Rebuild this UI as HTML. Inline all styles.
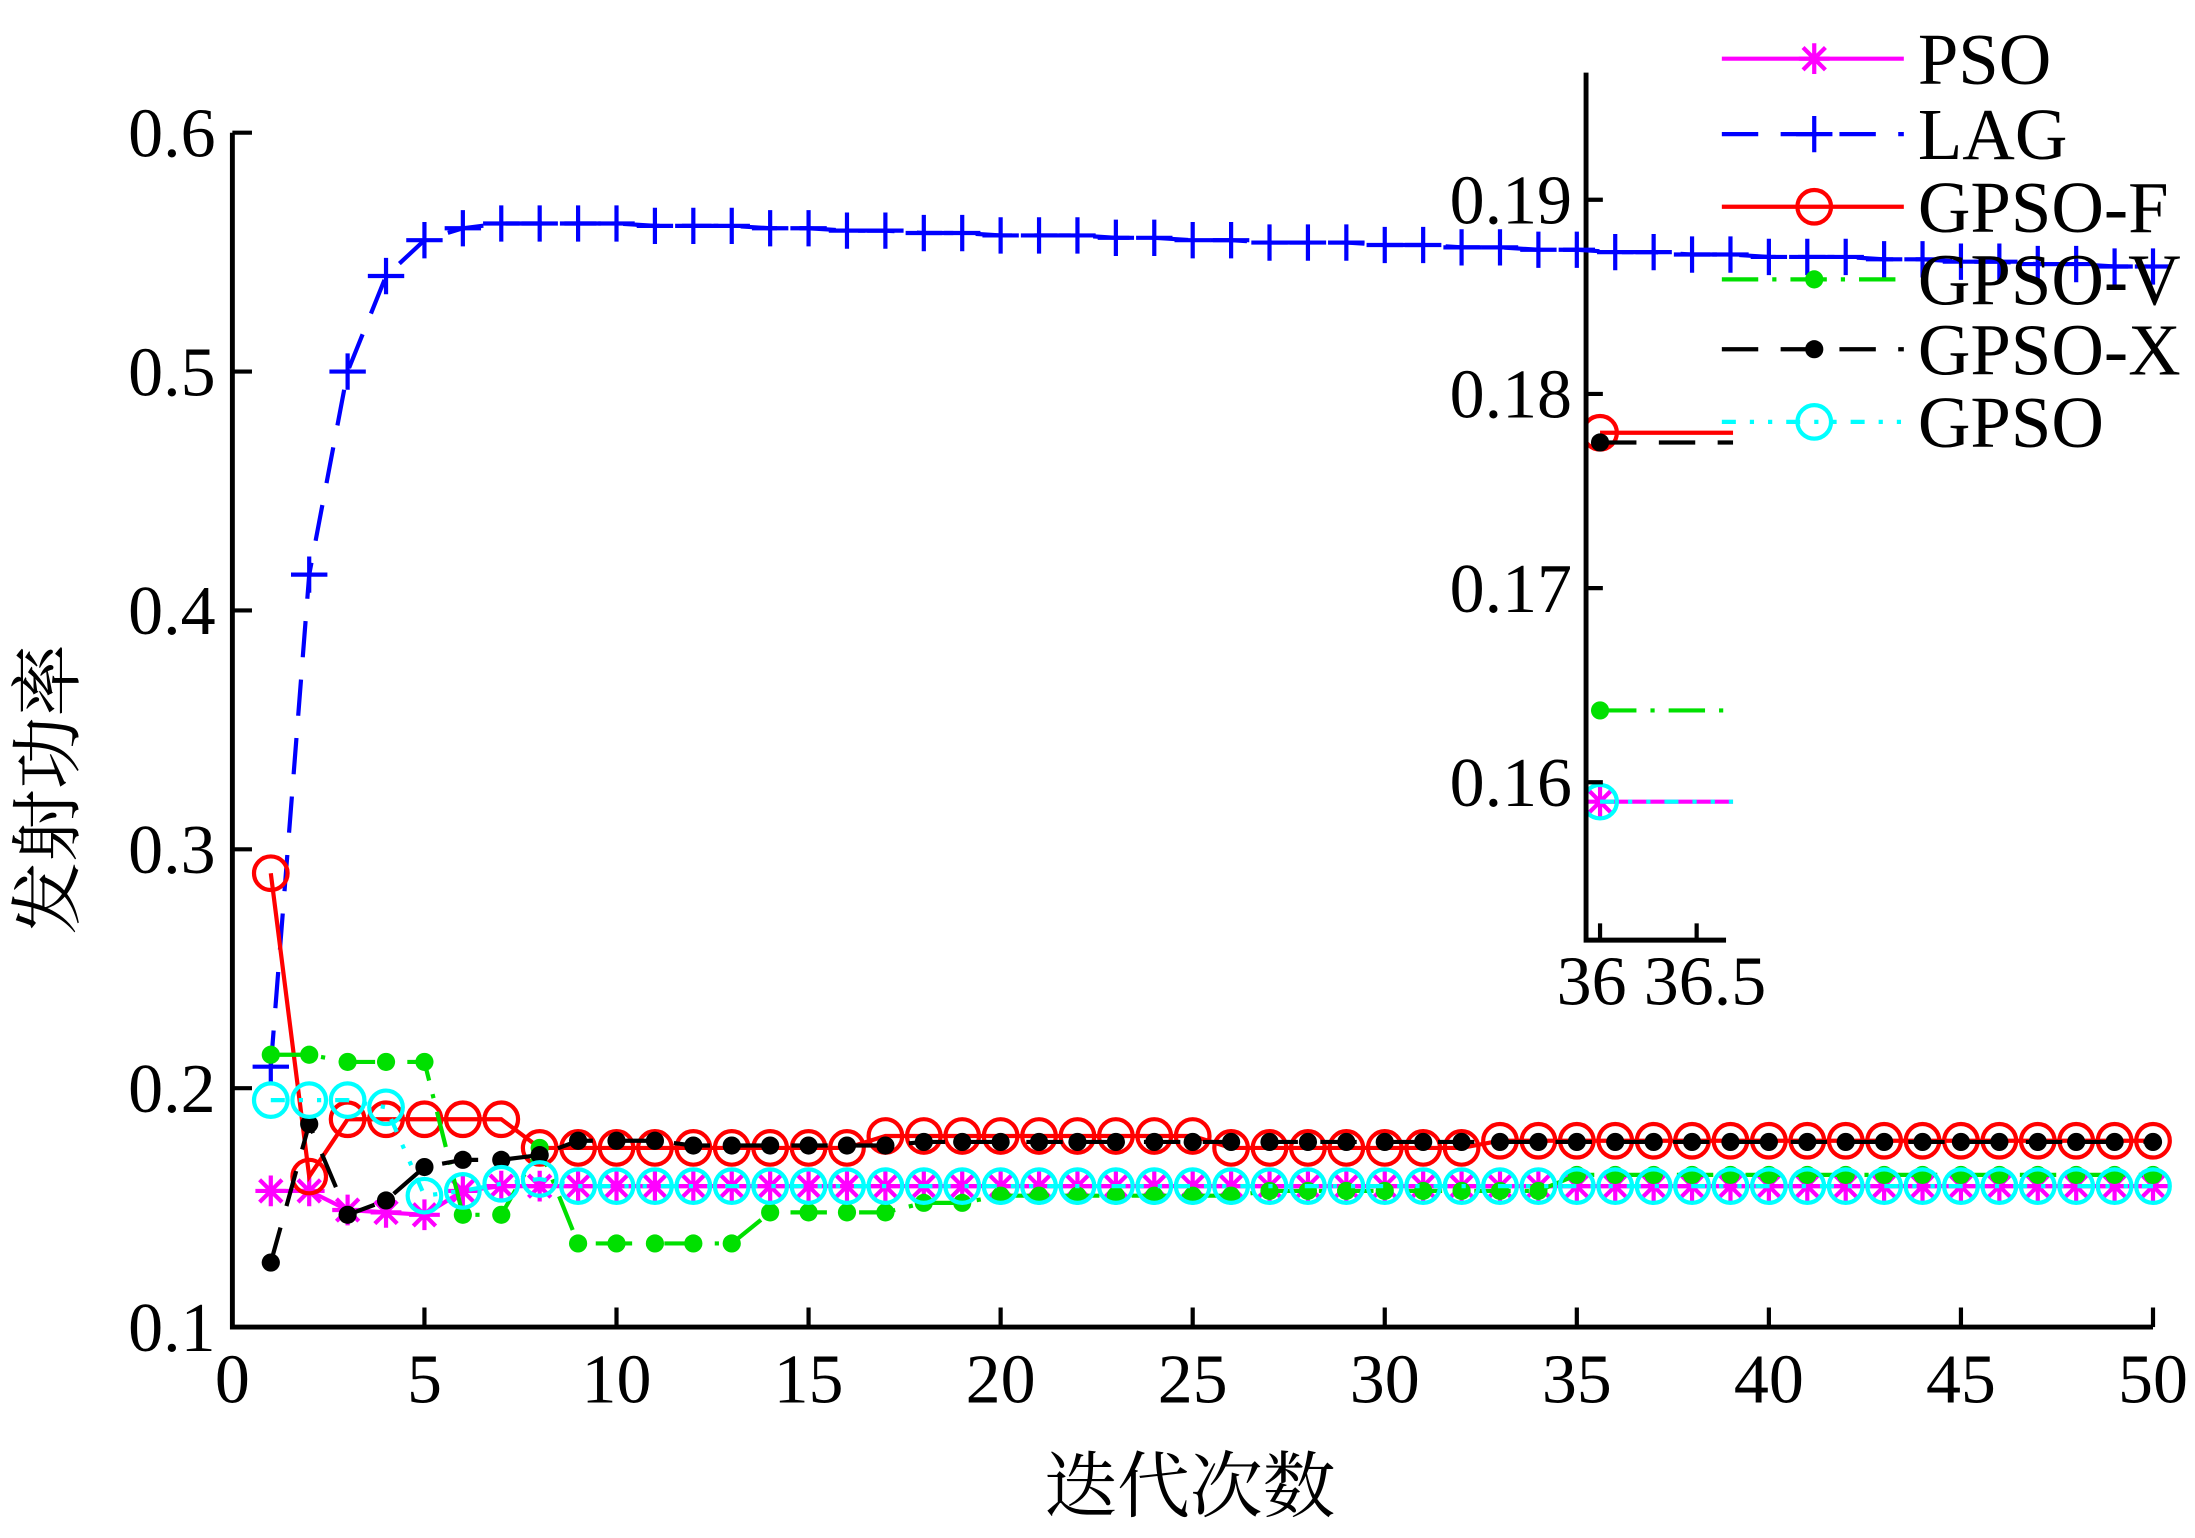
<!DOCTYPE html>
<html><head><meta charset="utf-8"><style>
html,body{margin:0;padding:0;background:#fff}
svg{display:block}
text{font-family:"Liberation Serif","Noto Serif CJK SC",serif;fill:#000}
</style></head><body>
<svg id="chart" width="2195" height="1538" viewBox="0 0 1568 1101" preserveAspectRatio="none" xmlns="http://www.w3.org/2000/svg">
<g id="inset"></g>
<g id="main"></g>
<g id="legend"></g>
<text x="52" y="565" font-size="52" text-anchor="middle" transform="rotate(-90 52 565)">发射功率</text>
<text x="850" y="1082" font-size="52" text-anchor="middle">迭代次数</text>
</svg>
<script>
const iterations = Array.from({length:50},(_,i)=>i+1);
const psoVals = [0.157,0.157,0.149,0.148,0.147,0.157,0.159,0.159,0.159,0.159,0.159,0.159,0.159,0.159,0.159,0.159,0.159,0.159,0.159,0.159,0.159,0.159,0.159,0.159,0.159,0.159,0.159,0.159,0.159,0.159,0.159,0.159,0.159,0.159,0.159,0.159,0.159,0.159,0.159,0.159,0.159,0.159,0.159,0.159,0.159,0.159,0.159,0.159,0.159,0.159];
const lagVals = [0.209,0.415,0.500,0.540,0.555,0.560,0.562,0.562,0.562,0.562,0.561,0.561,0.561,0.560,0.560,0.559,0.559,0.558,0.558,0.557,0.557,0.557,0.556,0.556,0.555,0.555,0.554,0.554,0.554,0.553,0.553,0.552,0.552,0.551,0.551,0.550,0.550,0.549,0.549,0.548,0.548,0.548,0.547,0.547,0.546,0.546,0.545,0.545,0.544,0.544];
const gpsoFVals = [0.290,0.163,0.187,0.187,0.187,0.187,0.187,0.175,0.175,0.175,0.175,0.175,0.175,0.175,0.175,0.175,0.180,0.180,0.180,0.180,0.180,0.180,0.180,0.180,0.180,0.175,0.175,0.175,0.175,0.175,0.175,0.175,0.178,0.178,0.178,0.178,0.178,0.178,0.178,0.178,0.178,0.178,0.178,0.178,0.178,0.178,0.178,0.178,0.178,0.178];
const gpsoVVals = [0.214,0.214,0.211,0.211,0.211,0.147,0.147,0.175,0.135,0.135,0.135,0.135,0.135,0.148,0.148,0.148,0.148,0.152,0.152,0.155,0.155,0.155,0.155,0.155,0.155,0.155,0.157,0.157,0.157,0.157,0.157,0.157,0.157,0.157,0.1637,0.1637,0.1637,0.1637,0.1637,0.1637,0.1637,0.1637,0.1637,0.1637,0.1637,0.1637,0.1637,0.1637,0.1637,0.1637];
const gpsoXVals = [0.127,0.185,0.147,0.153,0.167,0.170,0.170,0.172,0.178,0.178,0.178,0.176,0.176,0.176,0.176,0.176,0.176,0.1775,0.1775,0.1775,0.1775,0.1775,0.1775,0.1775,0.1775,0.1775,0.1775,0.1775,0.1775,0.1775,0.1775,0.1775,0.1775,0.1775,0.1775,0.1775,0.1775,0.1775,0.1775,0.1775,0.1775,0.1775,0.1775,0.1775,0.1775,0.1775,0.1775,0.1775,0.1775,0.1775];
const gpsoVals = [0.195,0.195,0.195,0.192,0.155,0.157,0.160,0.162,0.159,0.159,0.159,0.159,0.159,0.159,0.159,0.159,0.159,0.159,0.159,0.159,0.159,0.159,0.159,0.159,0.159,0.159,0.159,0.159,0.159,0.159,0.159,0.159,0.159,0.159,0.159,0.159,0.159,0.159,0.159,0.159,0.159,0.159,0.159,0.159,0.159,0.159,0.159,0.159,0.159,0.159];
const xTicks = [0,5,10,15,20,25,30,35,40,45,50];
const yTicks = [0.1,0.2,0.3,0.4,0.5,0.6];
const yTickLabels = ["0.1","0.2","0.3","0.4","0.5","0.6"];
const insetX = [36,37];
const insetXTicks = [36,36.5];
const insetXTickLabels = ["36","36.5"];
const insetYTicks = [0.16,0.17,0.18,0.19];
const insetYTickLabels = ["0.16","0.17","0.18","0.19"];
const seriesNames = ["PSO","LAG","GPSO-F","GPSO-V","GPSO-X","GPSO"];

const NS="http://www.w3.org/2000/svg";
function mk(tag,attrs,parent){const e=document.createElementNS(NS,tag);for(const k in attrs)e.setAttribute(k,attrs[k]);parent.appendChild(e);return e;}

const styles=[
 {vals:psoVals,color:"#ff00ff",dash:"",marker:"star"},
 {vals:lagVals,color:"#0000ff",dash:"26,16",marker:"plus"},
 {vals:gpsoFVals,color:"#ff0000",dash:"",marker:"circle"},
 {vals:gpsoVVals,color:"#00e000",dash:"26,10,3,10",marker:"dot"},
 {vals:gpsoXVals,color:"#000000",dash:"26,16",marker:"dot"},
 {vals:gpsoVals,color:"#00ffff",dash:"10,10,3,10,3,10",marker:"circle"}
];
function marker(g,type,x,y,color,key){
  let m;
  if(type==="circle"){m=mk("circle",{cx:x,cy:y,r:12,fill:"none",stroke:color,"stroke-width":3},g);}
  else if(type==="dot"){m=mk("circle",{cx:x,cy:y,r:6.5,fill:color},g);}
  else if(type==="plus"){m=mk("path",{d:`M${x-13},${y}H${x+13}M${x},${y-13}V${y+13}`,stroke:color,"stroke-width":3,fill:"none"},g);}
  else {m=mk("path",{d:`M${x-11},${y}H${x+11}M${x},${y-11}V${y+11}M${x-8},${y-8}L${x+8},${y+8}M${x-8},${y+8}L${x+8},${y-8}`,stroke:color,"stroke-width":3,fill:"none"},g);}
  
  
}

// main axes
const main=document.getElementById('main');
const X0=166,X1=1538,Y0=950,Y1=95;
const sx=v=>X0+(v-0)/(50-0)*(X1-X0);
const sy=v=>Y0-(v-0.1)/(0.6-0.1)*(Y0-Y1);
styles.forEach((s,si)=>{
  const key=seriesNames[si].toLowerCase();
  const g=mk("g",{},main);
  
  
  const pts=iterations.map((it,i)=>sx(it)+","+sy(s.vals[i])).join(" ");
  const pl=mk("polyline",{points:pts,fill:"none",stroke:s.color,"stroke-width":3,"stroke-dasharray":s.dash},g);
  
  
  iterations.forEach((it,i)=>marker(g,s.marker,sx(it),sy(s.vals[i]),s.color,key));
});
const ax=mk("path",{d:`M${X0},${Y1}V${Y0}H${X1}`,stroke:"#000","stroke-width":3.5,fill:"none"},main);

xTicks.forEach(t=>{
  const x=sx(t);
  mk("line",{x1:x,y1:Y0,x2:x,y2:Y0-14,stroke:"#000","stroke-width":3},main);
  const tx=mk("text",{x:x,y:Y0+54,"font-size":50,"text-anchor":"middle"},main);tx.textContent=String(t);
  
});
yTicks.forEach((t,i)=>{
  const y=sy(t);
  mk("line",{x1:X0,y1:y,x2:X0+14,y2:y,stroke:"#000","stroke-width":3},main);
  const tx=mk("text",{x:X0-12,y:y+17,"font-size":50,"text-anchor":"end"},main);tx.textContent=yTickLabels[i];
  
});

// inset
const inset=document.getElementById('inset');
const IX0=1133,IX1=1233,IY0=673,IYT=52;
const isx=v=>1143+(v-36)/(0.5)*(1212-1143);
const isy=v=>143+(0.19-v)/0.01*139;
const clip=mk("clipPath",{id:"ic"},inset);mk("rect",{x:IX0,y:IYT,width:105,height:IY0-IYT},clip);
const ig=mk("g",{"clip-path":"url(#ic)"},inset);
styles.forEach((s,si)=>{
  if(si===1)return;
  const key=seriesNames[si].toLowerCase();
  const v=s.vals[35];
  const pts=insetX.map(x=>isx(x)+","+isy(v)).join(" ");
  const pl=mk("polyline",{points:pts,fill:"none",stroke:s.color,"stroke-width":3,"stroke-dasharray":s.dash},ig);
  
  
  marker(ig,s.marker,isx(36),isy(v),s.color,'inset-'+key);
});
const iax=mk("path",{d:`M${IX0},${IYT}V${IY0}H${IX1}`,stroke:"#000","stroke-width":3.5,fill:"none"},inset);

insetXTicks.forEach((t,i)=>{
  const x=isx(t);
  mk("line",{x1:x,y1:IY0,x2:x,y2:IY0-12,stroke:"#000","stroke-width":3},inset);
  const tx=mk("text",{x:x+(i===0?-6:6),y:IY0+46,"font-size":50,"text-anchor":"middle"},inset);tx.textContent=insetXTickLabels[i];
  
});
insetYTicks.forEach((t,i)=>{
  const y=isy(t);
  mk("line",{x1:IX0,y1:y,x2:IX0+12,y2:y,stroke:"#000","stroke-width":3},inset);
  const tx=mk("text",{x:IX0-10,y:y+17,"font-size":50,"text-anchor":"end"},inset);tx.textContent=insetYTickLabels[i];
  
});

// legend
const lg=document.getElementById('legend');
const rows=[42,96,148,200,250,302];
styles.forEach((s,i)=>{
  const key=seriesNames[i].toLowerCase();
  const g=mk("g",{},lg);
  
  
  mk("line",{x1:1230,y1:rows[i],x2:1360,y2:rows[i],stroke:s.color,"stroke-width":3,"stroke-dasharray":s.dash},g);
  marker(g,s.marker,1296,rows[i],s.color,'legend-'+key);
  const tx=mk("text",{x:1370,y:rows[i]+18,"font-size":52},g);tx.textContent=seriesNames[i];
});
</script>
</body></html>
